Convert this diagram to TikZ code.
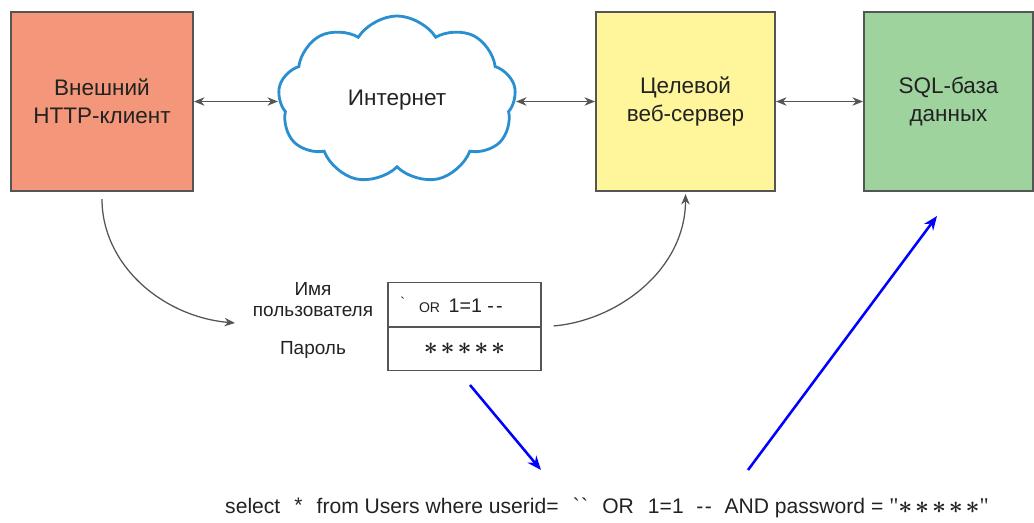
\documentclass[tikz,border=0pt]{standalone}
\usepackage{fontspec}
\setmainfont{Liberation Sans}[Ligatures=TeXOff]
\newfontfamily\quotefont{Liberation Serif}[Ligatures=TeXOff]
\usetikzlibrary{shapes.symbols,arrows.meta}
\definecolor{clientred}{HTML}{F4967A}
\definecolor{serveryellow}{HTML}{FFF59B}
\definecolor{dbgreen}{HTML}{9ED39E}
\definecolor{cloudblue}{HTML}{2A8FD0}
\definecolor{drawgray}{HTML}{555555}
\definecolor{textgray}{HTML}{222222}
\newcommand\pwstars{{\boldmath$\ast$\hspace{2pt}$\ast$\hspace{2pt}$\ast$\hspace{2pt}$\ast$\hspace{2pt}$\ast$}}

\begin{document}
\begin{tikzpicture}[
		x=0.025cm,
		y=-0.025cm,
		>={Stealth[length=7.5pt,width=6pt]},
		every node/.style={font=\fontsize{16}{20}\selectfont, text=textgray},
		host/.style={draw=drawgray, line width=1.4pt, minimum height=4.475cm, align=center},
		link/.style={<->, drawgray, line width=0.9pt},
		flow/.style={->, drawgray, line width=0.9pt},
		inject/.style={-{Stealth[length=10pt,width=8pt]}, blue, line width=1.8pt},
		field/.style={draw=drawgray, line width=1pt, minimum width=3.825cm, minimum height=1.1cm},
		small/.style={font=\fontsize{13.5}{15}\selectfont, align=center}
	]
		\useasboundingbox (0,0) rectangle (1034,522);

		% hosts
		\node[host, fill=clientred, minimum width=4.55cm] (client) at (102,101.5)
			{Внешний\\HTTP-клиент};
		\node[cloud, draw=cloudblue, line width=2pt, cloud puffs=9, cloud puff arc=115,
			cloud ignores aspect, minimum width=5.95cm, minimum height=4.2cm] (net) at (397,100)
			{\raisebox{-4pt}{Интернет}};
		\node[host, fill=serveryellow, minimum width=4.475cm] (server) at (685.5,101.5)
			{Целевой\\веб-сервер};
		\node[host, fill=dbgreen, minimum width=4.225cm] (db) at (948.5,101.5)
			{SQL-база\\данных};

		\draw[link] (client.east) -- (client.east -| net.west);
		\draw[link] (server.west -| net.east) -- (server.west);
		\draw[link] (server.east) -- (db.west);

		% login form
		\node[field, anchor=south] (user) at (464.5,327) {};
		\node[field, anchor=north, minimum height=1.075cm] (pass) at (464.5,327)
			{\fontsize{18}{18}\selectfont\pwstars};
		\node[anchor=west, inner sep=0pt] (userval) at (400,305)
			{\raisebox{4pt}{\fontsize{10}{10}\selectfont\symbol{96}}\hspace{10pt}%
			 {\fontsize{10}{10}\selectfont OR}\hspace{6pt}%
			 {\fontsize{14}{15}\selectfont 1=1 -\hspace{1.5pt}-}};
		\node[small] (ulabel) at (313,300) {Имя\\пользователя};
		\node[small] (plabel) at (313,350) {Пароль};

		\coordinate (fieldin) at (235,323);
		\draw[flow, shorten <=0.175cm] (client.south) to[out=-90, in=175] (fieldin);
		\draw[flow, shorten <=0.3cm, shorten >=0.05cm] (user.south east)
			to[out=5, in=-90] (server.south);

		% resulting query
		\node[font=\fontsize{15}{16}\selectfont] (query) at (607,508)
			{select\hspace{10pt}\raisebox{1pt}{*}\hspace{10pt}from Users where userid=\hspace{10pt}\symbol{96}\hspace{1pt}\symbol{96}\hspace{10pt}OR\hspace{10pt}1=1\hspace{9pt}-\hspace{1pt}-\hspace{9pt}AND password = %
			 {\fontsize{16}{16}\selectfont\quotefont\symbol{34}\pwstars\symbol{34}}};

		\coordinate (q1) at (470,385);
		\coordinate (q2) at (541,470);
		\coordinate (q3) at (748,470);
		\coordinate (q4) at (937,216);
		\draw[inject] (q1) -- (q2);
		\draw[inject] (q3) -- (q4);
\end{tikzpicture}
\end{document}
